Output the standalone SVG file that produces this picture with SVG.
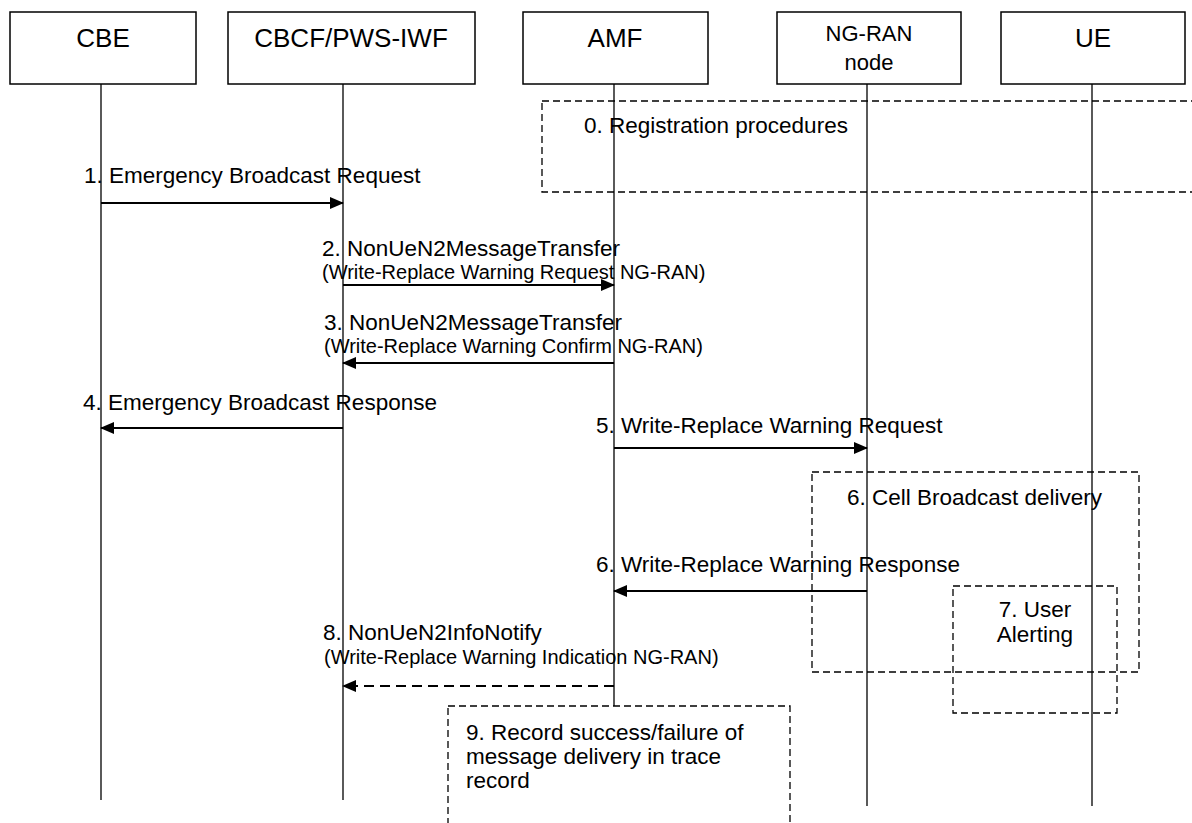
<svg xmlns="http://www.w3.org/2000/svg" width="1192" height="823" viewBox="0 0 1192 823">
<style>
  .box { fill: #fff; stroke: #000; stroke-width: 1.5; }
  .life { stroke: #000; stroke-width: 1.3; fill: none; }
  .dbox { fill: none; stroke: #000; stroke-width: 1.3; stroke-dasharray: 7 4; }
  .msg { stroke: #000; stroke-width: 2; fill: none; }
  .dmsg { stroke: #000; stroke-width: 2; fill: none; stroke-dasharray: 10 6; }
  text { font-family: "Liberation Sans", Arial, sans-serif; fill: #000; }
  .hdr { font-size: 26px; text-anchor: middle; }
  .hdrs { font-size: 22px; text-anchor: middle; }
  .lbl { font-size: 22.5px; }
  .sub { font-size: 20px; }
</style>
<defs>
  <marker id="ah" markerUnits="userSpaceOnUse" markerWidth="14" markerHeight="12" refX="13" refY="6" orient="auto">
    <path d="M0,0 L14,6 L0,12 z" fill="#000"/>
  </marker>
</defs>
<rect width="1192" height="823" fill="#fff"/>

<g id="lifelines">
  <line class="life" x1="101" y1="84" x2="101" y2="800"/>
  <line class="life" x1="343" y1="84" x2="343" y2="800"/>
  <line class="life" x1="614" y1="84" x2="614" y2="706"/>
  <line class="life" x1="867" y1="84" x2="867" y2="806"/>
  <line class="life" x1="1092" y1="84" x2="1092" y2="806"/>
</g>

<g id="CBE">
  <rect class="box" x="10" y="12" width="186" height="72"/>
  <text class="hdr" x="103" y="47">CBE</text>
</g>
<g id="CBCF">
  <rect class="box" x="228" y="12" width="247" height="72"/>
  <text class="hdr" x="351" y="47">CBCF/PWS-IWF</text>
</g>
<g id="AMF">
  <rect class="box" x="523" y="12" width="185" height="72"/>
  <text class="hdr" x="615" y="47">AMF</text>
</g>
<g id="NGRAN">
  <rect class="box" x="777" y="12" width="184" height="72"/>
  <text class="hdrs" x="869" y="41">NG-RAN</text>
  <text class="hdrs" x="869" y="70">node</text>
</g>
<g id="UE">
  <rect class="box" x="1001" y="12" width="184" height="72"/>
  <text class="hdr" x="1093" y="47">UE</text>
</g>

<g id="step0">
  <rect class="dbox" x="542" y="101" width="700" height="91"/>
  <text class="lbl" x="584" y="133">0. Registration procedures</text>
</g>

<g id="step6box">
  <rect class="dbox" x="812" y="472" width="327" height="200"/>
  <text class="lbl" x="847" y="505">6. Cell Broadcast delivery</text>
</g>
<g id="step7">
  <rect class="dbox" x="953" y="586" width="164" height="127"/>
  <text class="lbl" x="1035" y="617" text-anchor="middle">7. User</text>
  <text class="lbl" x="1035" y="642" text-anchor="middle">Alerting</text>
</g>
<g id="step9">
  <rect class="dbox" x="448" y="706" width="342" height="130"/>
  <text class="lbl" x="466" y="740">9. Record success/failure of</text>
  <text class="lbl" x="466" y="764">message delivery in trace</text>
  <text class="lbl" x="466" y="788">record</text>
</g>

<g id="connectors">
  <line class="msg" x1="101" y1="203" x2="343" y2="203" marker-end="url(#ah)"/>
  <line class="msg" x1="343" y1="285" x2="614" y2="285" marker-end="url(#ah)"/>
  <line class="msg" x1="614" y1="363" x2="343" y2="363" marker-end="url(#ah)"/>
  <line class="msg" x1="343" y1="428" x2="101" y2="428" marker-end="url(#ah)"/>
  <line class="msg" x1="614" y1="448" x2="867" y2="448" marker-end="url(#ah)"/>
  <line class="msg" x1="867" y1="591" x2="614" y2="591" marker-end="url(#ah)"/>
  <line class="dmsg" x1="614" y1="686" x2="343" y2="686" marker-end="url(#ah)"/>
</g>

<g id="labels">
  <text class="lbl" x="84" y="183">1. Emergency Broadcast Request</text>
  <text class="lbl" x="322" y="256">2. NonUeN2MessageTransfer</text>
  <text class="sub" x="322" y="279">(Write-Replace Warning Request NG-RAN)</text>
  <text class="lbl" x="324" y="330">3. NonUeN2MessageTransfer</text>
  <text class="sub" x="324" y="353">(Write-Replace Warning Confirm NG-RAN)</text>
  <text class="lbl" x="83" y="410">4. Emergency Broadcast Response</text>
  <text class="lbl" x="596" y="433">5. Write-Replace Warning Request</text>
  <text class="lbl" x="596" y="572">6. Write-Replace Warning Response</text>
  <text class="lbl" x="323" y="640">8. NonUeN2InfoNotify</text>
  <text class="sub" x="324" y="664">(Write-Replace Warning Indication NG-RAN)</text>
</g>
</svg>
